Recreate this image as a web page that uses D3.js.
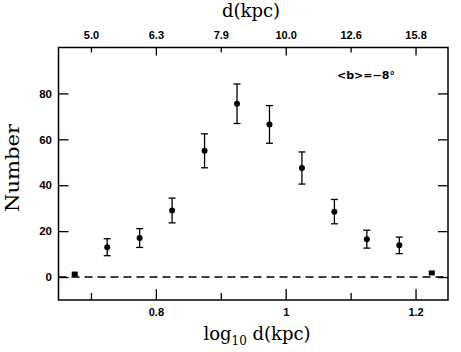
<!DOCTYPE html>
<html>
<head>
<meta charset="utf-8">
<script src="https://cdn.jsdelivr.net/npm/d3@7/dist/d3.min.js"></script>
<style>
  html, body { margin: 0; padding: 0; background: #fff; }
  svg { display: block; }
</style>
</head>
<body>
<svg id="chart" width="461" height="352"></svg>
<script>
// ---- data ----
const logD = [0.725, 0.775, 0.825, 0.875, 0.925, 0.975, 1.025, 1.075, 1.125, 1.175];
const counts = [13, 17, 29, 55, 75.5, 66.5, 47.5, 28.5, 16.5, 13.8];
const errors = [3.7, 4.1, 5.4, 7.4, 8.6, 8.2, 7.0, 5.3, 3.9, 3.6];
const squareLogD = [0.675, 1.225];
const squareCounts = [1.3, 1.8];
const bottomMajorTicks = [0.8, 1.0, 1.2];
const bottomMinorTicks = [0.7, 0.9, 1.1];
const bottomTickLabels = ["0.8", "1", "1.2"];
const topTickValues = [0.7, 0.8, 0.9, 1.0, 1.1, 1.2];
const topTickLabels = ["5.0", "6.3", "7.9", "10.0", "12.6", "15.8"];
const topMajor = [false, true, false, true, false, true];
const yTicks = [0, 20, 40, 60, 80];
const yTickLabels = ["0", "20", "40", "60", "80"];

// ---- layout ----
const L = 58.5, R = 448, T = 47.5, B = 300;
const svg = d3.select("#chart");
const x = d3.scaleLinear().domain([0.65, 1.25]).range([L, R]);
const y = d3.scaleLinear().domain([-10, 100]).range([B, T]);

const tickFont = "'Liberation Sans', Arial, sans-serif";
const serif = "'DejaVu Serif', serif";

function styleAxis(g, sw) {
  g.select(".domain").remove();
  g.selectAll(".tick line").attr("stroke", "#000").attr("stroke-width", sw);
  g.selectAll(".tick text")
    .attr("fill", "#000")
    .style("font-family", tickFont)
    .style("font-size", "11px")
    .style("font-weight", "bold");
}

// bottom axis major
svg.append("g").attr("transform", `translate(0,${B})`)
  .call(d3.axisBottom(x).tickValues(bottomMajorTicks).tickSize(-11).tickPadding(8)
    .tickFormat((d, i) => bottomTickLabels[i]))
  .call(g => styleAxis(g, 1.3));
// bottom axis minor
svg.append("g").attr("transform", `translate(0,${B})`)
  .call(d3.axisBottom(x).tickValues(bottomMinorTicks).tickSize(-7).tickFormat(""))
  .call(g => styleAxis(g, 1.3));

// top axis
svg.append("g").attr("transform", `translate(0,${T})`)
  .call(d3.axisTop(x).tickValues(topTickValues).tickSize(0).tickPadding(9)
    .tickFormat((d, i) => topTickLabels[i]))
  .call(g => styleAxis(g, 1.3))
  .call(g => g.selectAll(".tick line")
    .attr("y2", (d, i) => topMajor[i] ? 8 : 5));

// left axis
svg.append("g").attr("transform", `translate(${L},0)`)
  .call(d3.axisLeft(y).tickValues(yTicks).tickSize(-10).tickPadding(6.5)
    .tickFormat((d, i) => yTickLabels[i]))
  .call(g => styleAxis(g, 1.3))
  .call(g => g.selectAll(".tick text").style("font-size", "11.5px"));

// right axis
svg.append("g").attr("transform", `translate(${R},0)`)
  .call(d3.axisRight(y).tickValues(yTicks).tickSize(-10).tickFormat(""))
  .call(g => styleAxis(g, 1.3));

// frame
svg.append("rect")
  .attr("x", L).attr("y", T).attr("width", R - L).attr("height", B - T)
  .attr("fill", "none").attr("stroke", "#000").attr("stroke-width", 1.5);

// dashed zero line
svg.append("line")
  .attr("x1", L).attr("x2", R).attr("y1", y(0)).attr("y2", y(0))
  .attr("stroke", "#000").attr("stroke-width", 1.4)
  .attr("stroke-dasharray", "8,5");

// error bars
const pts = logD.map((d, i) => ({ x: d, n: counts[i], e: errors[i] }));
const eb = svg.append("g").attr("stroke", "#000").attr("stroke-width", 1.3);
eb.selectAll("line.v").data(pts).join("line").attr("class", "v")
  .attr("x1", d => x(d.x)).attr("x2", d => x(d.x))
  .attr("y1", d => y(d.n - d.e)).attr("y2", d => y(d.n + d.e));
eb.selectAll("line.t").data(pts).join("line").attr("class", "t")
  .attr("x1", d => x(d.x) - 3.5).attr("x2", d => x(d.x) + 3.5)
  .attr("y1", d => y(d.n + d.e)).attr("y2", d => y(d.n + d.e));
eb.selectAll("line.b").data(pts).join("line").attr("class", "b")
  .attr("x1", d => x(d.x) - 3.5).attr("x2", d => x(d.x) + 3.5)
  .attr("y1", d => y(d.n - d.e)).attr("y2", d => y(d.n - d.e));

// points
svg.append("g").selectAll("circle").data(pts).join("circle")
  .attr("cx", d => x(d.x)).attr("cy", d => y(d.n)).attr("r", 3)
  .attr("fill", "#000");

// squares
svg.append("g").selectAll("rect").data(squareLogD.map((d, i) => ({ x: d, n: squareCounts[i] })))
  .join("rect")
  .attr("x", d => x(d.x) - 3).attr("y", d => y(d.n) - 2.5)
  .attr("width", 6).attr("height", 5).attr("fill", "#000");

// titles
svg.append("text")
  .attr("x", 251).attr("y", 17)
  .attr("text-anchor", "middle")
  .style("font-family", serif).style("font-size", "18px")
  .text("d(kpc)");

const xt = svg.append("text")
  .attr("x", 257).attr("y", 340)
  .attr("text-anchor", "middle")
  .style("font-family", serif).style("font-size", "18px");
xt.append("tspan").text("log");
xt.append("tspan").attr("dy", 5).style("font-size", "12px").text("10");
xt.append("tspan").attr("dy", -5).text(" d(kpc)");

svg.append("text")
  .attr("transform", "translate(18.5,168) rotate(-90)")
  .attr("text-anchor", "middle")
  .style("font-family", serif).style("font-size", "19px")
  .attr("textLength", 88).attr("lengthAdjust", "spacingAndGlyphs")
  .text("Number");

// annotation
svg.append("text")
  .attr("x", 337).attr("y", 79)
  .style("font-family", "'DejaVu Sans', sans-serif").style("font-size", "11px").style("font-weight", "bold")
  .attr("textLength", 58).attr("lengthAdjust", "spacingAndGlyphs")
  .text("<b>=\u22128\u00B0");
</script>
</body>
</html>
